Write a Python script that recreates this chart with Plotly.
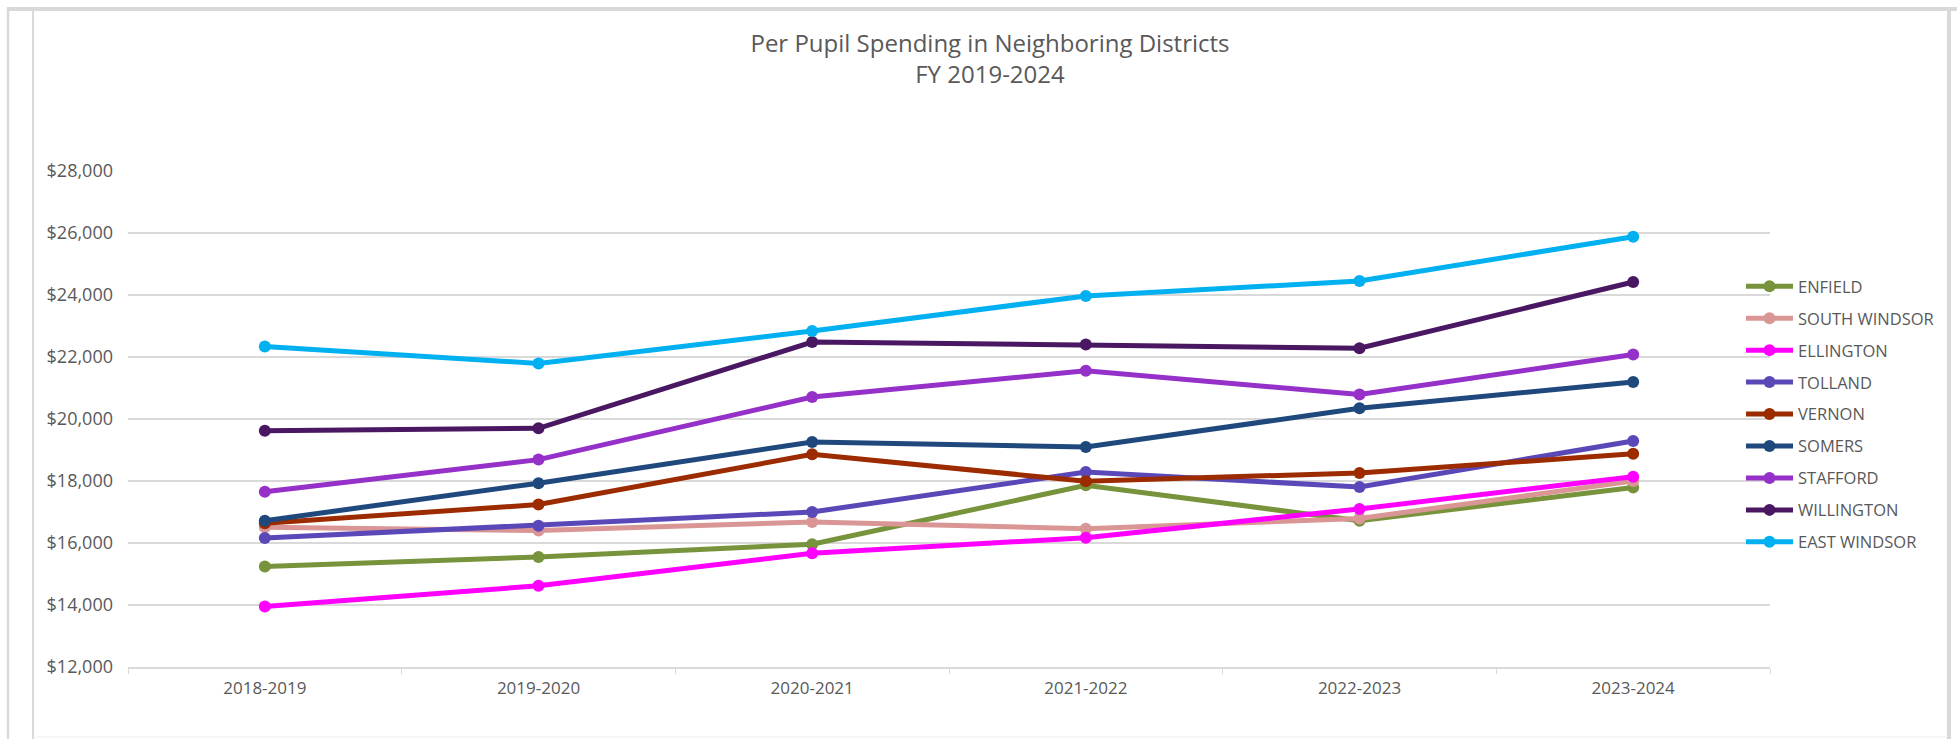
import plotly.graph_objects as go

# ---- data ----
years = ["2018-2019", "2019-2020", "2020-2021", "2021-2022", "2022-2023", "2023-2024"]
enfield = [15240, 15550, 15960, 17860, 16720, 17790]
south_windsor = [16510, 16400, 16680, 16460, 16790, 18000]
ellington = [13950, 14620, 15670, 16170, 17100, 18140]
tolland = [16160, 16560, 17000, 18290, 17805, 19290]
vernon = [16635, 17240, 18860, 17990, 18260, 18880]
somers = [16720, 17930, 19260, 19097, 20347, 21194]
stafford = [17650, 18690, 20710, 21556, 20790, 22081]
willington = [19620, 19700, 22484, 22403, 22282, 24419]
east_windsor = [22340, 21790, 22840, 23970, 24450, 25880]

series_names = ["ENFIELD", "SOUTH WINDSOR", "ELLINGTON", "TOLLAND", "VERNON",
                "SOMERS", "STAFFORD", "WILLINGTON", "EAST WINDSOR"]
series_values = [enfield, south_windsor, ellington, tolland, vernon,
                 somers, stafford, willington, east_windsor]
series_colors = ["#77933C", "#D99694", "#FF00FF", "#5B48B8", "#9C2B00",
                 "#1F497D", "#9530C8", "#4A1762", "#00B0F0"]

# ---- layout geometry (pixels) ----
W, H = 1957, 739
L, R, T, B = 128, 1770, 171, 667
pw, ph = R - L, B - T


def px(x):
    return (x - L) / pw


def py(y):
    return (B - y) / ph


FONT = "Open Sans"
GREY = "#595959"
FRAME = "#D9D9D9"

fig = go.Figure()
for name, vals, col in zip(series_names, series_values, series_colors):
    fig.add_trace(go.Scatter(
        x=years, y=vals, name=name, mode="lines+markers",
        line=dict(color=col, width=5),
        marker=dict(color=col, size=12),
        legendgroup=name,
    ))

shapes = [
    dict(type="line", xref="paper", yref="paper", x0=px(7), x1=px(W), y0=py(9), y1=py(9),
         line=dict(color=FRAME, width=4)),
    dict(type="line", xref="paper", yref="paper", x0=px(8), x1=px(8), y0=py(7), y1=py(H),
         line=dict(color=FRAME, width=2.5)),
    dict(type="line", xref="paper", yref="paper", x0=px(33), x1=px(33), y0=py(11), y1=py(H),
         line=dict(color=FRAME, width=2)),
    dict(type="line", xref="paper", yref="paper", x0=px(1949), x1=px(1949), y0=py(11), y1=py(H),
         line=dict(color=FRAME, width=4)),
    dict(type="line", xref="paper", yref="paper", x0=px(33), x1=px(1947), y0=py(737), y1=py(737),
         line=dict(color="#EEEEEE", width=1)),
]

fig.update_layout(
    width=W, height=H,
    margin=dict(l=L, r=W - R, t=T, b=H - B, autoexpand=False),
    paper_bgcolor="white", plot_bgcolor="white",
    font=dict(family=FONT, color=GREY, size=16),
    title=dict(
        text="Per Pupil Spending in Neighboring Districts<br>FY 2019-2024",
        x=990 / W, xref="container", xanchor="center",
        y=1 - 52 / H, yref="container", yanchor="middle",
        font=dict(family=FONT, size=24, color=GREY),
    ),
    showlegend=True,
    legend=dict(
        x=px(1741), xanchor="left", y=py(269), yanchor="top",
        font=dict(family=FONT, size=16.5, color=GREY),
        bgcolor="rgba(0,0,0,0)", tracegroupgap=7.5, itemwidth=47,
    ),
    shapes=shapes,
)
fig.update_xaxes(
    range=[-0.5, 5.5],
    showgrid=False, showline=True, linecolor=FRAME, linewidth=1.5,
    ticks="outside", tickson="boundaries", ticklen=5, tickcolor=FRAME,
    tickfont=dict(family=FONT, size=17, color=GREY),
    ticklabelstandoff=5, fixedrange=True,
)
fig.update_yaxes(
    range=[12000, 28000], dtick=2000, tickprefix="$", tickformat=",",
    showgrid=True, gridcolor=FRAME, gridwidth=1.5, zeroline=False, showline=False,
    tickfont=dict(family=FONT, size=18, color=GREY), ticklabelstandoff=14,
)

fig.write_html("out.html", config={"displayModeBar": False},
               post_script="document.body.style.margin='0';")
